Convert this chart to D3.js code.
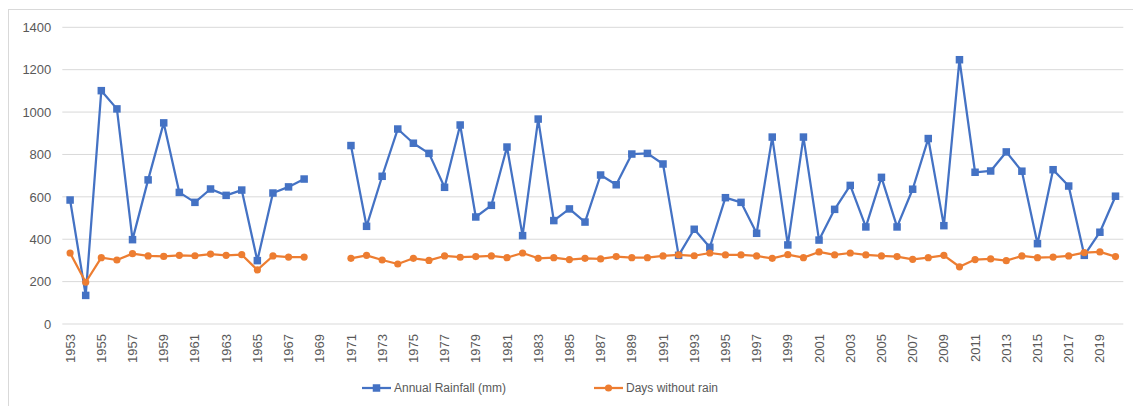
<!DOCTYPE html>
<html>
<head>
<meta charset="utf-8">
<script src="https://cdn.jsdelivr.net/npm/d3@7"></script>
<style>
  html, body { margin: 0; padding: 0; background: #fff; }
  svg { display: block; font-family: "Liberation Sans", Arial, sans-serif; }
</style>
</head>
<body>
<svg id="chart" width="1133" height="406"></svg>
<script>
// Years on the category axis (1969 and 1970 have no records)
const years = d3.range(1953, 2021);

// Annual rainfall in mm, one entry per year; null = missing
const rainfall = [
  585, 135, 1101, 1015, 398, 680, 949, 621, 574, 637,
  607, 632, 299, 618, 647, 684, null, null, 842, 461,
  697, 920, 853, 805, 645, 939, 505, 560, 835, 417,
  967, 488, 543, 481, 703, 657, 802, 805, 755, 324,
  447, 362, 596, 574, 428, 882, 373, 882, 396, 541,
  654, 458, 692, 458, 636, 875, 464, 1247, 716, 722,
  812, 721, 379, 728, 651, 324, 433, 603
];

// Number of days without rain per year; null = missing
const dryDays = [
  335, 197, 313, 302, 332, 321, 319, 324, 322, 330,
  324, 327, 255, 321, 316, 316, null, null, 310, 324,
  302, 283, 310, 300, 321, 315, 318, 321, 313, 335,
  310, 313, 304, 310, 307, 318, 313, 313, 321, 326,
  322, 335, 326, 326, 321, 310, 327, 313, 340, 326,
  335, 326, 321, 318, 305, 313, 324, 270, 304, 307,
  299, 321, 313, 316, 321, 337, 340, 318
];

const yTicks = [0, 200, 400, 600, 800, 1000, 1200, 1400];
const xTickLabels = years.filter((y, i) => i % 2 === 0);

const seriesNames = ["Annual Rainfall (mm)", "Days without rain"];
const seriesColors = ["#4472C4", "#ED7D31"];

const svg = d3.select("#chart");
const plot = { left: 62.3, right: 1123.3, top: 27.3, bottom: 324 };

// Chart frame
svg.append("rect")
  .attr("x", 8.5).attr("y", 9.5)
  .attr("width", 1140).attr("height", 420)
  .attr("fill", "none").attr("stroke", "#D9D9D9").attr("stroke-width", 1);

const x = d3.scaleBand().domain(years).range([plot.left, plot.right]).paddingInner(0).paddingOuter(0);
const y = d3.scaleLinear().domain([0, 1400]).range([plot.bottom, plot.top]);
const cx = d => x(d) + x.bandwidth() / 2;

// Horizontal gridlines
svg.append("g")
  .selectAll("line")
  .data(yTicks)
  .join("line")
  .attr("x1", plot.left).attr("x2", plot.right)
  .attr("y1", d => y(d)).attr("y2", d => y(d))
  .attr("stroke", "#D9D9D9").attr("stroke-width", 1);

// Y axis labels
const yAxis = d3.axisLeft(y).tickValues(yTicks).tickFormat(d3.format("d")).tickSize(0).tickPadding(0);
svg.append("g")
  .attr("transform", `translate(${plot.left - 11},0)`)
  .call(yAxis)
  .call(g => g.select(".domain").remove())
  .call(g => g.selectAll("text")
    .attr("fill", "#595959").attr("font-size", 13)
    .attr("font-family", "Liberation Sans, Arial, sans-serif"));

// X axis labels, rotated, every second year
const xAxis = d3.axisBottom(x).tickValues(xTickLabels).tickSize(0).tickPadding(0);
svg.append("g")
  .attr("transform", `translate(0,${plot.bottom})`)
  .call(xAxis)
  .call(g => g.select(".domain").remove())
  .call(g => g.selectAll("text")
    .attr("fill", "#595959").attr("font-size", 13)
    .attr("font-family", "Liberation Sans, Arial, sans-serif")
    .attr("text-anchor", "end")
    .attr("dy", "0.35em")
    .attr("transform", "translate(0,10) rotate(-90)")
    .attr("x", 0).attr("y", 0));

const seriesData = [rainfall, dryDays];

seriesData.forEach((vals, si) => {
  const pts = years.map((yr, i) => ({ yr, v: vals[i] }));
  const line = d3.line()
    .defined(d => d.v !== null)
    .x(d => cx(d.yr))
    .y(d => y(d.v));

  svg.append("path")
    .datum(pts)
    .attr("d", line)
    .attr("fill", "none")
    .attr("stroke", seriesColors[si])
    .attr("stroke-width", 2.25)
    .attr("stroke-linejoin", "round");

  const valid = pts.filter(d => d.v !== null);
  if (si === 0) {
    svg.append("g").selectAll("rect")
      .data(valid)
      .join("rect")
      .attr("x", d => cx(d.yr) - 3.75)
      .attr("y", d => y(d.v) - 3.75)
      .attr("width", 7.5).attr("height", 7.5)
      .attr("fill", seriesColors[si]);
  } else {
    svg.append("g").selectAll("circle")
      .data(valid)
      .join("circle")
      .attr("cx", d => cx(d.yr))
      .attr("cy", d => y(d.v))
      .attr("r", 3.6)
      .attr("fill", seriesColors[si]);
  }
});

// Legend
const legendItems = [
  { name: seriesNames[0], color: seriesColors[0], x0: 362, shape: "square" },
  { name: seriesNames[1], color: seriesColors[1], x0: 594, shape: "circle" }
];
const legendY = 388;
const lg = svg.append("g");
legendItems.forEach(it => {
  lg.append("line")
    .attr("x1", it.x0).attr("x2", it.x0 + 29)
    .attr("y1", legendY).attr("y2", legendY)
    .attr("stroke", it.color).attr("stroke-width", 2.25);
  if (it.shape === "square") {
    lg.append("rect")
      .attr("x", it.x0 + 14.5 - 3.75).attr("y", legendY - 3.75)
      .attr("width", 7.5).attr("height", 7.5)
      .attr("fill", it.color);
  } else {
    lg.append("circle")
      .attr("cx", it.x0 + 14.5).attr("cy", legendY).attr("r", 3.6)
      .attr("fill", it.color);
  }
  lg.append("text")
    .attr("x", it.x0 + 32).attr("y", legendY)
    .attr("dy", "0.35em")
    .attr("fill", "#595959").attr("font-size", 12)
    .text(it.name);
});
</script>
</body>
</html>
